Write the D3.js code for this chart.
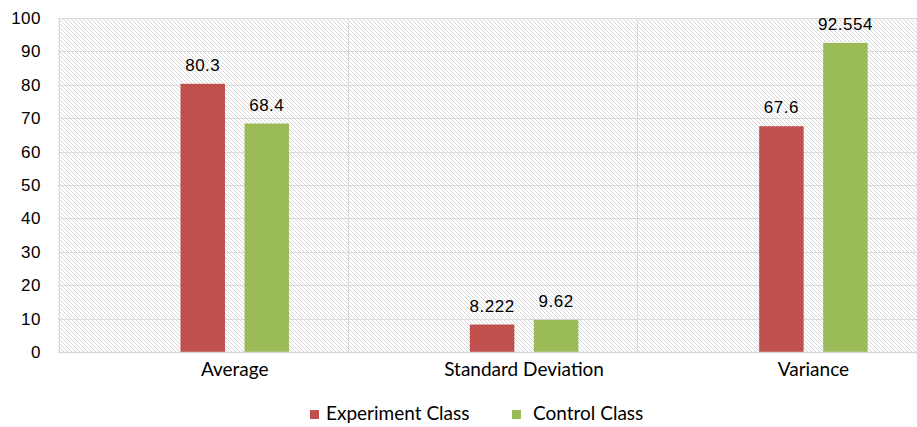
<!DOCTYPE html>
<html>
<head>
<meta charset="utf-8">
<script src="https://cdn.jsdelivr.net/npm/d3@7"></script>
<style>
  body { margin: 0; background: #fff; }
  .tick-label { font-family: "Liberation Sans", Arial, sans-serif; font-size: 17px; letter-spacing: 0.5px; fill: #000; }
  .value-label { font-family: "Liberation Sans", Arial, sans-serif; font-size: 17px; letter-spacing: 0.5px; fill: #000; }
  .cat-label, .legend-label { font-family: Lato, "Open Sans", sans-serif; font-size: 19px; fill: #000; }
</style>
</head>
<body>
<div id="chart-area"></div>
<script>
// chart data
let categories = ["Average", "Standard Deviation", "Variance"];
let seriesNames = ["Experiment Class", "Control Class"];
let experimentValues = [80.3, 8.222, 67.6];
let controlValues = [68.4, 9.62, 92.554];
let yTicks = [0, 10, 20, 30, 40, 50, 60, 70, 80, 90, 100];

let colors = ["#c0504d", "#9bbb59"];

let margin = {top: 18, right: 0, bottom: 75, left: 58};
let width = 917 - margin.left - margin.right;
let height = 334;

let svg = d3.select("#chart-area").append("svg")
	.attr("width", 917)
	.attr("height", 427);

// hatch pattern for the plot background
let defs = svg.append("defs");
let pattern = defs.append("pattern")
	.attr("id", "hatch")
	.attr("patternUnits", "userSpaceOnUse")
	.attr("width", 4)
	.attr("height", 4);
pattern.append("rect").attr("width", 4).attr("height", 4).attr("fill", "#fff");
pattern.append("path")
	.attr("d", "M-1,-1 L5,5 M-1,3 L1,5 M3,-1 L5,1")
	.attr("stroke", "#d4d4d4")
	.attr("stroke-width", 0.9);

let g = svg.append("g")
	.attr("transform", "translate(" + margin.left + "," + margin.top + ")");

// scales
let x = d3.scaleBand()
	.domain(categories)
	.range([0.5, 868.5]);

let xInner = d3.scaleBand()
	.domain(seriesNames)
	.range([122, 230.5])
	.paddingInner(0.305);

let y = d3.scaleLinear()
	.domain([0, 100])
	.range([height, 0]);

// plot background
g.append("rect")
	.attr("x", 0)
	.attr("y", 0)
	.attr("width", width)
	.attr("height", height)
	.attr("fill", "url(#hatch)");

// horizontal gridlines
g.selectAll(".hgrid")
	.data(yTicks)
	.enter()
	.append("line")
	.attr("class", "hgrid")
	.attr("x1", 0)
	.attr("x2", width)
	.attr("y1", d => Math.round(y(d)) + 0.5)
	.attr("y2", d => Math.round(y(d)) + 0.5)
	.attr("stroke", "#d9d9d9")
	.attr("stroke-width", 1);

// vertical gridlines (between categories)
g.selectAll(".vgrid")
	.data(categories)
	.enter()
	.append("line")
	.attr("class", "vgrid")
	.attr("x1", d => Math.round(x(d)) + 0.5)
	.attr("x2", d => Math.round(x(d)) + 0.5)
	.attr("y1", 0)
	.attr("y2", height)
	.attr("stroke", "#d9d9d9")
	.attr("stroke-width", 1);

// y tick labels
g.selectAll(".tick-label")
	.data(yTicks)
	.enter()
	.append("text")
	.attr("class", "tick-label")
	.attr("x", -17)
	.attr("y", d => y(d) + 6)
	.attr("text-anchor", "end")
	.text(d => d);

// bars
let rows = categories.map((c, i) => ({cat: c, values: [experimentValues[i], controlValues[i]]}));

let groups = g.selectAll(".bar-group")
	.data(rows)
	.enter()
	.append("g")
	.attr("class", "bar-group")
	.attr("transform", d => "translate(" + x(d.cat) + ",0)");

groups.selectAll("rect")
	.data(d => d.values.map((v, j) => ({series: seriesNames[j], value: v, j: j})))
	.enter()
	.append("rect")
	.attr("x", d => xInner(d.series))
	.attr("y", d => y(d.value))
	.attr("width", xInner.bandwidth())
	.attr("height", d => height - y(d.value))
	.attr("fill", d => colors[d.j]);

groups.selectAll(".value-label")
	.data(d => d.values.map((v, j) => ({series: seriesNames[j], value: v})))
	.enter()
	.append("text")
	.attr("class", "value-label")
	.attr("x", d => xInner(d.series) + xInner.bandwidth() / 2)
	.attr("y", d => y(d.value) - 13)
	.attr("text-anchor", "middle")
	.text(d => d.value);

// category labels
groups.append("text")
	.attr("class", "cat-label")
	.attr("x", (xInner.range()[0] + xInner.range()[1]) / 2)
	.attr("y", height + 24)
	.attr("text-anchor", "middle")
	.text(d => d.cat);

// bottom axis line
g.append("line")
	.attr("x1", 0)
	.attr("x2", width)
	.attr("y1", height + 0.5)
	.attr("y2", height + 0.5)
	.attr("stroke", "#d9d9d9")
	.attr("stroke-width", 1.5);

// legend
let legendX = [310, 512];
let legendTextGap = [16, 21];
let legend = svg.selectAll(".legend")
	.data(seriesNames)
	.enter()
	.append("g")
	.attr("class", "legend")
	.attr("transform", (d, i) => "translate(" + legendX[i] + ",410)");

legend.append("rect")
	.attr("width", 9)
	.attr("height", 9)
	.attr("fill", (d, i) => colors[i]);

legend.append("text")
	.attr("class", "legend-label")
	.attr("x", (d, i) => legendTextGap[i])
	.attr("y", 10)
	.text(d => d);
</script>
</body>
</html>
